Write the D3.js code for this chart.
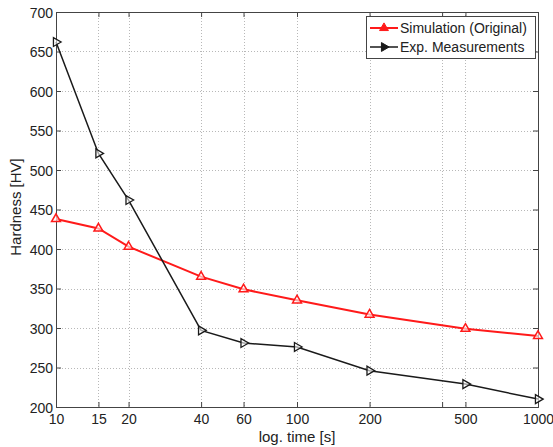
<!DOCTYPE html>
<html>
<head>
<meta charset="utf-8">
<script src="https://cdn.jsdelivr.net/npm/d3@7"></script>
<style>
  html, body { margin: 0; padding: 0; background: #fff; }
  svg { display: block; font-family: "Liberation Sans", Arial, Helvetica, sans-serif; }
</style>
</head>
<body>
<svg id="chart" width="553" height="447"></svg>
<script>
// Annealing time (s) and measured / simulated hardness
const times = [10, 15, 20, 40, 60, 100, 200, 500, 1000];
const simulation = [438, 426, 403, 365, 349, 335, 317, 299, 290];
const experiment = [662, 521, 462, 297, 281, 276, 246, 229, 210];

const xTicks = [10, 15, 20, 40, 60, 100, 200, 400, 500, 1000];
const xTickLabels = ["10", "15", "20", "40", "60", "100", "200", "", "500", "1000"];
const yTicks = [200, 250, 300, 350, 400, 450, 500, 550, 600, 650, 700];

const seriesNames = ["Simulation (Original)", "Exp. Measurements"];

const svg = d3.select("#chart");
const plotL = 56, plotR = 538, plotT = 12, plotB = 407;

const x = d3.scaleLog().domain([10, 1000]).range([plotL, plotR]);
const y = d3.scaleLinear().domain([200, 700]).range([plotB, plotT]);

const axisColor = "#444";
const textColor = "#222";

// grid
const grid = svg.append("g").attr("stroke", "#b8b8b8").attr("stroke-width", 1)
  .attr("stroke-dasharray", "1,2");
grid.selectAll("line.gx").data(xTicks.slice(1, -1)).join("line")
  .attr("x1", d => Math.round(x(d)) + 0.5).attr("x2", d => Math.round(x(d)) + 0.5)
  .attr("y1", plotT).attr("y2", plotB);
grid.selectAll("line.gy").data(yTicks.slice(1, -1)).join("line")
  .attr("x1", plotL).attr("x2", plotR)
  .attr("y1", d => Math.round(y(d)) + 0.5).attr("y2", d => Math.round(y(d)) + 0.5);

// axes (ticks pointing inward)
const labelFor = d => xTickLabels[xTicks.indexOf(d)];
const gx = svg.append("g").attr("transform", `translate(0,${plotB})`)
  .call(d3.axisBottom(x).tickValues(xTicks).tickFormat(labelFor).tickSize(-5).tickPadding(7));
const gxTop = svg.append("g").attr("transform", `translate(0,${plotT})`)
  .call(d3.axisTop(x).tickValues(xTicks).tickFormat("").tickSize(-5));
const gy = svg.append("g").attr("transform", `translate(${plotL},0)`)
  .call(d3.axisLeft(y).tickValues(yTicks).tickFormat(d3.format("d")).tickSize(-5).tickPadding(3));
const gyRight = svg.append("g").attr("transform", `translate(${plotR},0)`)
  .call(d3.axisRight(y).tickValues(yTicks).tickFormat("").tickSize(-5));

[gx, gxTop, gy, gyRight].forEach(g => {
  g.select(".domain").attr("stroke", axisColor);
  g.selectAll(".tick line").attr("stroke", axisColor);
  g.selectAll(".tick text").attr("fill", textColor).style("font-size", "14px")
    .style("font-family", "'Liberation Sans', Arial, sans-serif");
});
gy.selectAll(".tick text").attr("dy", "0.36em");

// axis titles
svg.append("text").attr("x", (plotL + plotR) / 2).attr("y", 442)
  .attr("text-anchor", "middle").attr("fill", textColor).style("font-size", "15px")
  .text("log. time [s]");
svg.append("text").attr("transform", "translate(21,207) rotate(-90)")
  .attr("text-anchor", "middle").attr("fill", textColor).style("font-size", "15px")
  .text("Hardness [HV]");

// series
const line = d3.line().x((d, i) => x(times[i])).y(d => y(d));
const triUp = d3.symbol().type(d3.symbolTriangle).size(34);
const triRight = d3.symbol().type(d3.symbolTriangle).size(34);

svg.append("path").datum(simulation).attr("d", line)
  .attr("fill", "none").attr("stroke", "#ff1a1a").attr("stroke-width", 2);
svg.append("path").datum(experiment).attr("d", line)
  .attr("fill", "none").attr("stroke", "#1a1a1a").attr("stroke-width", 1.5);

svg.append("g").selectAll("path").data(simulation).join("path")
  .attr("d", triUp())
  .attr("transform", (d, i) => `translate(${x(times[i])},${y(d)})`)
  .attr("fill", "#fff").attr("fill-opacity", 0.6).attr("stroke", "#ff1a1a").attr("stroke-width", 1.5);
svg.append("g").selectAll("path").data(experiment).join("path")
  .attr("d", triRight())
  .attr("transform", (d, i) => `translate(${x(times[i])},${y(d)}) rotate(90)`)
  .attr("fill", "#fff").attr("fill-opacity", 0.6).attr("stroke", "#1a1a1a").attr("stroke-width", 1.3);

// legend
const lg = svg.append("g").attr("transform", "translate(366,16)");
lg.append("rect").attr("x", 0.5).attr("y", 0.5).attr("width", 169).attr("height", 42)
  .attr("fill", "#fff").attr("stroke", axisColor);
const colors = ["#ff1a1a", "#1a1a1a"];
const markers = [() => triUp(), () => triRight()];
seriesNames.forEach((name, i) => {
  const cy = 12 + i * 19;
  lg.append("line").attr("x1", 4).attr("x2", 32).attr("y1", cy).attr("y2", cy)
    .attr("stroke", colors[i]).attr("stroke-width", i === 0 ? 2 : 1.5);
  lg.append("path").attr("d", markers[i]())
    .attr("transform", `translate(18,${cy})${i === 1 ? " rotate(90)" : ""}`)
    .attr("fill", colors[i]).attr("stroke", colors[i]).attr("stroke-width", 1);
  lg.append("text").attr("x", 34).attr("y", cy + 5).attr("fill", textColor)
    .style("font-size", "14px").text(name);
});
</script>
</body>
</html>
